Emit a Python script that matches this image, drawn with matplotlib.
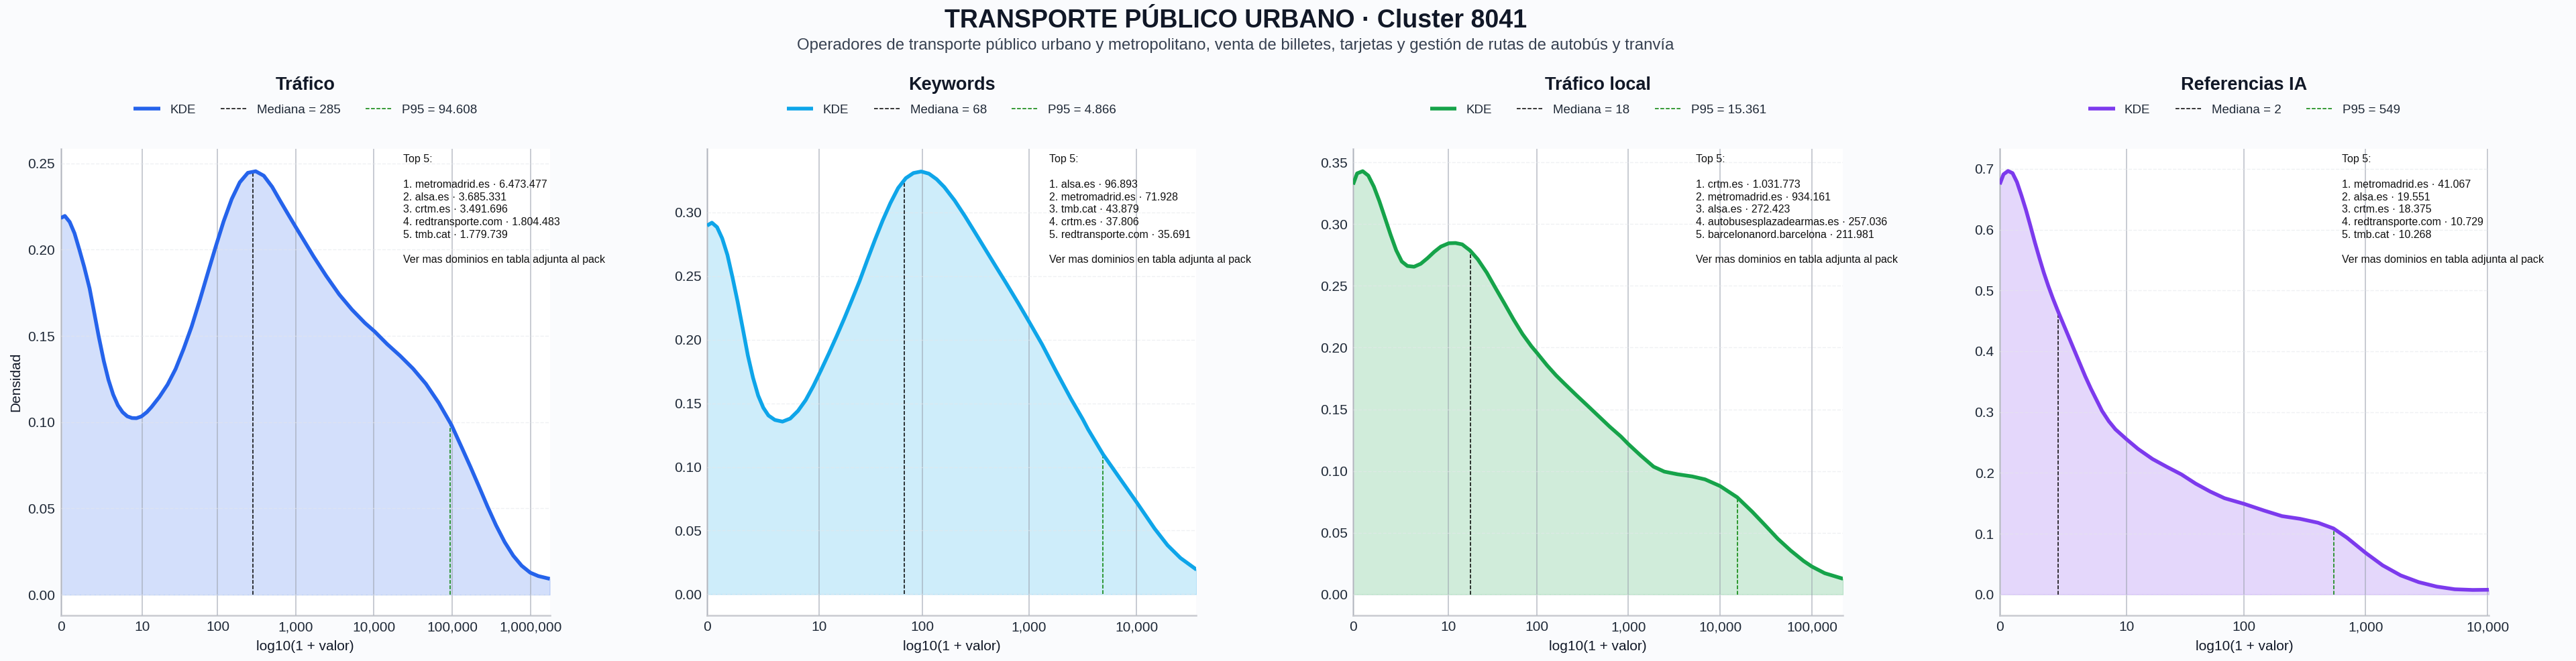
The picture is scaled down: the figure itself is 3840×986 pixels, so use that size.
import matplotlib
matplotlib.use("Agg")
import matplotlib.pyplot as plt
import numpy as np

plt.rcParams["font.family"] = ["Liberation Sans", "DejaVu Sans"]

BG = "#FAFBFD"
W, H = 3840, 986

# ── curves: x is log10(1 + valor), y is density ──────────────────────────────
trafico_x = [0, .053, .115, .176, .238, .30, .369, .43, .484, .55, .61, .67, .73, .79, .85, .91, .967,
             1.03, 1.10, 1.16, 1.26, 1.365, 1.467, 1.57, 1.672, 1.775, 1.877, 1.98, 2.08, 2.184,
             2.287, 2.39, 2.49, 2.594, 2.70, 2.80, 2.90, 3.0, 3.107, 3.23, 3.39, 3.557, 3.72,
             3.885, 4.01, 4.17, 4.336, 4.5, 4.664, 4.828, 4.99, 5.125, 5.234, 5.343, 5.45, 5.56,
             5.67, 5.78, 5.887, 5.996, 6.10, 6.246]
trafico_y = [.2183, .2195, .2160, .2095, .2000, .1900, .1775, .1630, .1500, .1355, .1245, .1160,
             .1098, .1058, .1034, .1024, .1023, .1033, .1058, .1088, .1146, .1218, .1308, .1425,
             .1554, .1705, .1862, .2018, .2163, .2293, .2390, .2445, .2454, .2428, .2364, .2285,
             .2208, .2132, .2052, .1960, .1848, .1740, .1652, .1575, .1525, .1452, .1384, .1310,
             .1222, .1112, .0984, .0850, .0740, .0626, .0512, .0402, .0305, .0226, .0168, .0128,
             .0108, .0092]

keywords_x = [0, .045, .093, .141, .19, .237, .285, .333, .38, .428, .476, .524, .572, .632, .703,
              .775, .847, .919, .99, 1.062, 1.134, 1.206, 1.278, 1.349, 1.421, 1.493, 1.565, 1.636,
              1.708, 1.78, 1.852, 1.923, 1.995, 2.067, 2.139, 2.21, 2.306, 2.402, 2.498, 2.593,
              2.689, 2.785, 2.904, 3.007, 3.12, 3.25, 3.39, 3.50, 3.55, 3.69, 3.85, 4.0, 4.17,
              4.29, 4.41, 4.56]
keywords_y = [.2895, .2918, .2883, .2795, .2664, .2489, .2296, .2086, .1876, .1701, .1561, .1465,
              .1404, .1369, .1356, .1380, .1440, .1525, .1635, .1760, .1890, .2025, .2165, .2310,
              .2460, .2625, .2785, .2935, .3072, .3190, .3268, .3308, .3320, .3303, .3259, .3198,
              .3093, .2970, .2839, .2708, .2576, .2445, .2279, .2130, .1964, .1754, .1535, .1375,
              .1295, .1098, .0905, .0725, .0515, .0385, .0285, .0193]

local_x = [0, .044, .105, .166, .227, .287, .348, .409, .47, .531, .592, .665, .738, .811, .884,
           .957, 1.043, 1.116, 1.189, 1.274, 1.359, 1.457, 1.554, 1.652, 1.749, 1.847, 1.944,
           2.005, 2.114, 2.212, 2.31, 2.431, 2.553, 2.675, 2.797, 2.918, 3.0, 3.135, 3.275, 3.392,
           3.532, 3.696, 3.836, 4.0, 4.186, 4.35, 4.49, 4.63, 4.77, 4.91, 5.0, 5.14, 5.34]
local_y = [.3321, .3411, .3429, .3393, .3303, .3185, .305, .2914, .2788, .2697, .2661, .2655,
           .2679, .2724, .2775, .2818, .2845, .2847, .2836, .2787, .2715, .2607, .2480, .2354,
           .2227, .2109, .2010, .1956, .1856, .1775, .1703, .1616, .1531, .1445, .1359, .1280,
           .1218, .1125, .1035, .0995, .0974, .0956, .0932, .0878, .0787, .0670, .0561, .0450,
           .0355, .0271, .0226, .0172, .0127]

ia_x = [0, .031, .068, .105, .141, .178, .215, .251, .288, .325, .361, .398, .435, .475, .517, .563,
        .609, .655, .701, .747, .793, .839, .894, .949, 1.041, 1.135, 1.253, 1.371, 1.489, 1.607,
        1.725, 1.843, 2.002, 2.167, 2.315, 2.462, 2.609, 2.736, 2.846, 3.002, 3.14, 3.288, 3.436,
        3.583, 3.731, 3.878, 4.01]
ia_y = [.6746, .6911, .6966, .693, .6783, .6562, .6324, .6066, .5791, .5534, .5295, .5075, .4873,
        .4671, .4469, .4249, .4028, .3808, .3588, .3386, .3202, .3018, .2850, .2715, .2550, .2392,
        .2227, .2098, .1975, .1822, .1693, .1583, .1491, .1380, .1288, .1244, .1180, .1086, .0935,
        .0681, .0478, .0313, .0202, .0129, .0085, .0074, .0077]

titles = ["Tráfico", "Keywords", "Tráfico local", "Referencias IA"]
colors = ["#2563EB", "#0EA5E9", "#16A34A", "#7C3AED"]
medians = [285, 68, 18, 2]
p95s = [94608, 4866, 15361, 549]
median_labels = ["285", "68", "18", "2"]
p95_labels = ["94.608", "4.866", "15.361", "549"]
x_ticks = [
    [0, 10, 100, 1000, 10000, 100000, 1000000],
    [0, 10, 100, 1000, 10000],
    [0, 10, 100, 1000, 10000, 100000],
    [0, 10, 100, 1000, 10000],
]
y_ticks = [
    [0, .05, .10, .15, .20, .25],
    [0, .05, .10, .15, .20, .25, .30],
    [0, .05, .10, .15, .20, .25, .30, .35],
    [0, .1, .2, .3, .4, .5, .6, .7],
]
y_fmt = ["%.2f", "%.2f", "%.2f", "%.1f"]
x_limits = [6.25, 4.556, 5.34, 4.01]
y_limits = [(-.012, .2584), (-.0166, .3498), (-.017, .361), (-.0345, .733)]
top5 = [
    ["metromadrid.es · 6.473.477", "alsa.es · 3.685.331", "crtm.es · 3.491.696",
     "redtransporte.com · 1.804.483", "tmb.cat · 1.779.739"],
    ["alsa.es · 96.893", "metromadrid.es · 71.928", "tmb.cat · 43.879",
     "crtm.es · 37.806", "redtransporte.com · 35.691"],
    ["crtm.es · 1.031.773", "metromadrid.es · 934.161", "alsa.es · 272.423",
     "autobusesplazadearmas.es · 257.036", "barcelonanord.barcelona · 211.981"],
    ["metromadrid.es · 41.067", "alsa.es · 19.551", "crtm.es · 18.375",
     "redtransporte.com · 10.729", "tmb.cat · 10.268"],
]
curves = [(trafico_x, trafico_y), (keywords_x, keywords_y), (local_x, local_y), (ia_x, ia_y)]

# axes edges in pixels of the 3840 wide figure
panel_edges = [(90.5, 820), (1054, 1783), (2017, 2747.4), (2981, 3710)]
AX_TOP, AX_BOTTOM = 222, 918

fig = plt.figure(figsize=(W / 100, H / 100), dpi=100, facecolor=BG)

# both header lines sit left of the figure centre in the reference
fig.text(0.4796, 1 - 31 / H, "TRANSPORTE PÚBLICO URBANO · Cluster 8041", ha="center", va="center",
         fontsize=27, fontweight="bold", color="#111827")
fig.text(0.4796, 1 - 68 / H,
         "Operadores de transporte público urbano y metropolitano, venta de billetes, "
         "tarjetas y gestión de rutas de autobús y tranvía",
         ha="center", va="center", fontsize=17.3, color="#374151")

for i, (x, y) in enumerate(curves):
    left, right = panel_edges[i]
    ax = fig.add_axes([left / W, 1 - AX_BOTTOM / H, (right - left) / W, (AX_BOTTOM - AX_TOP) / H])
    ax.set_facecolor("white")
    color = colors[i]

    ax.fill_between(x, y, 0, color=color, alpha=0.2, zorder=2)
    ax.plot(x, y, color=color, lw=4, label="KDE", zorder=4, solid_capstyle="butt")

    med_x = np.log10(1 + medians[i])
    p95_x = np.log10(1 + p95s[i])
    ax.plot([med_x, med_x], [0, np.interp(med_x, x, y)], color="black", ls="--", lw=1.1,
            label=f"Mediana = {median_labels[i]}", zorder=3)
    ax.plot([p95_x, p95_x], [0, np.interp(p95_x, x, y)], color="green", ls="--", lw=1.1,
            label=f"P95 = {p95_labels[i]}", zorder=3)

    ax.set_xlim(0, x_limits[i])
    ax.set_ylim(*y_limits[i])
    ax.set_xticks(np.log10(1 + np.array(x_ticks[i])))
    ax.set_xticklabels([f"{v:,}" for v in x_ticks[i]])
    ax.set_yticks(y_ticks[i])
    ax.set_yticklabels([y_fmt[i] % v for v in y_ticks[i]])
    ax.tick_params(length=0, labelsize=15, colors="#1f2937", pad=6)

    ax.grid(axis="x", color="#9CA3AF", alpha=0.6, lw=1.3)
    ax.grid(axis="y", color="#E5E7EB", alpha=0.6, lw=1.0, ls="--")
    ax.set_axisbelow(False)
    for line in ax.get_xgridlines() + ax.get_ygridlines():
        line.set_zorder(2.5)

    ax.spines[["top", "right"]].set_visible(False)
    ax.spines[["left", "bottom"]].set_color("#C9CBD0")
    ax.spines[["left", "bottom"]].set_linewidth(1.8)

    ax.set_xlabel("log10(1 + valor)", fontsize=15, color="#111827", labelpad=7)
    if i == 0:
        ax.set_ylabel("Densidad", fontsize=15, color="#111827", labelpad=6)
    ax.set_title(titles[i], fontsize=19.5, fontweight="bold", color="#111827", pad=63)
    ax.legend(loc="center", bbox_to_anchor=(0.5, 1.083), ncol=3, frameon=False, fontsize=13.5,
              handlelength=2.1, columnspacing=2.0, handletextpad=0.77, labelcolor="#1f2937")

    lines = ["Top 5:", ""] + [f"{n}. {t}" for n, t in enumerate(top5[i], 1)]
    lines += ["", "Ver mas dominios en tabla adjunta al pack"]
    ax.text(0.70, 0.988, "\n".join(lines), transform=ax.transAxes, va="top", ha="left",
            fontsize=11.5, color="#111111", clip_on=False, zorder=6, linespacing=1.31)

fig.savefig("out.png", dpi=100, facecolor=BG)
plt.close(fig)
